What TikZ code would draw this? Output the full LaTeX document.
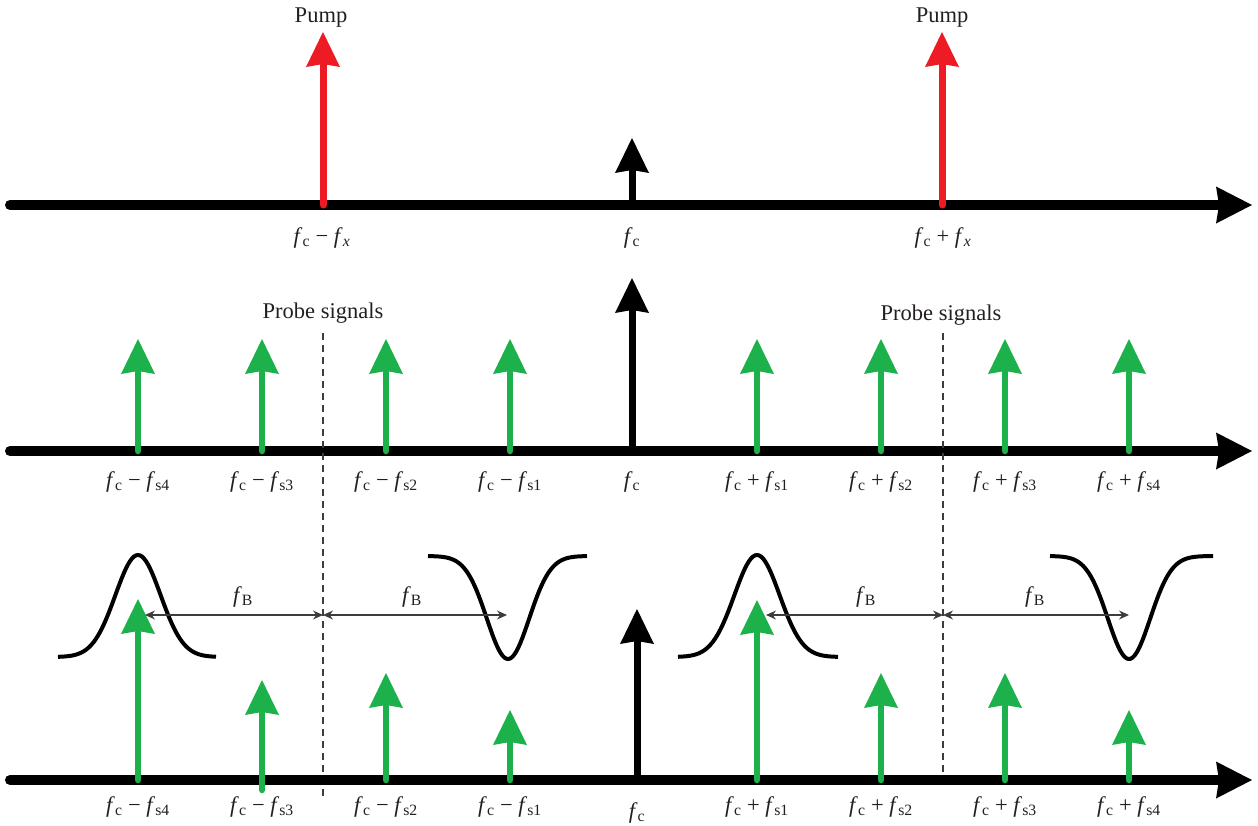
\documentclass[tikz,border=0pt]{standalone}
\usepackage{fontspec}
\setmainfont{Liberation Serif}
\usetikzlibrary{arrows.meta}
\definecolor{pumpred}{RGB}{237,28,36}
\definecolor{probegreen}{RGB}{29,177,76}
\definecolor{txt}{RGB}{35,31,32}
\definecolor{dim}{RGB}{60,60,60}
\newcommand\Fq[1]{\textit{f}\textsubscript{#1}}
\begin{document}
\begin{tikzpicture}[x=1pt,y=-1pt,
  axisline/.style={line width=10pt, line cap=round, draw=black,
    -{Stealth[length=36pt,width=37pt,inset=3pt,line width=0pt]}},
  spike/.style={line width=7pt, line cap=round,
    -{Stealth[length=35pt,width=34pt,inset=3pt,line width=0pt]}},
  pumparrow/.style={spike, draw=pumpred, fill=pumpred},
  carrier/.style={spike, draw=black, fill=black},
  probearrow/.style={spike, line width=6.5pt, draw=probegreen, fill=probegreen},
  divider/.style={draw=dim, line width=1.1pt, dash pattern=on 7pt off 5pt},
  spacing/.style={draw=dim, line width=1.6pt,
    {Stealth[length=10pt,width=9pt,line width=0pt]}-{Stealth[length=10pt,width=9pt,line width=0pt]}},
  gaincurve/.style={draw=black, line width=4pt, line join=round},
  lbl/.style={text=txt, inner sep=0pt, font=\fontsize{22.5}{26}\selectfont},
]
\useasboundingbox (0,0) rectangle (1258,825);

% ---------- Row 1 ----------
\coordinate (a1s) at (10,205);
\coordinate (a1e) at (1252,205);
\draw[axisline] (a1s) -- (a1e);
\coordinate (p1b) at (323,205); \coordinate (p1t) at (323,32);
\coordinate (p2b) at (942,205); \coordinate (p2t) at (942,32);
\coordinate (c1b) at (632,205); \coordinate (c1t) at (632,138);
\draw[pumparrow] (p1b) -- (p1t);
\draw[pumparrow] (p2b) -- (p2t);
\draw[carrier] (c1b) -- (c1t);
\node[lbl] (pump1) at (321,18) {Pump};
\node[lbl] (pump2) at (942,18) {Pump};
\node[lbl] (l1a) at (322,238) {\Fq{c} − \Fq{\textit{x}}};
\node[lbl] (l1b) at (632,238) {\Fq{c}};
\node[lbl] (l1c) at (943,238) {\Fq{c} + \Fq{\textit{x}}};

% ---------- Row 2 ----------
\coordinate (a2s) at (10,451);
\coordinate (a2e) at (1252,451);
\draw[axisline] (a2s) -- (a2e);
\coordinate (dl1) at (323,333); \coordinate (dl2) at (323,798);
\coordinate (dr1) at (943,333); \coordinate (dr2) at (943,778);
\draw[divider] (dl1) -- (dl2);
\draw[divider] (dr1) -- (dr2);
\foreach \x/\n in {138/m4,262/m3,386/m2,510/m1,757/p1,881/p2,1005/p3,1129/p4}{
  \coordinate (g2b\n) at (\x,451);
  \coordinate (g2t\n) at (\x,339);
  \draw[probearrow] (g2b\n) -- (g2t\n);
}
\coordinate (c2b) at (632,451); \coordinate (c2t) at (632,278);
\draw[carrier] (c2b) -- (c2t);
\node[lbl] (ps1) at (323,313) {Probe signals};
\node[lbl] (ps2) at (941,315) {Probe signals};
\foreach \x/\t/\n in {138/{\Fq{c} − \Fq{s4}}/a,262/{\Fq{c} − \Fq{s3}}/b,386/{\Fq{c} − \Fq{s2}}/c,510/{\Fq{c} − \Fq{s1}}/d,
  757/{\Fq{c} + \Fq{s1}}/e,881/{\Fq{c} + \Fq{s2}}/f,1005/{\Fq{c} + \Fq{s3}}/g,1129/{\Fq{c} + \Fq{s4}}/h}{
  \node[lbl] (l2\n) at (\x,482) {\t};
}
\node[lbl] (l2fc) at (632,482) {\Fq{c}};

% ---------- Row 3 ----------
\coordinate (a3s) at (10,780);
\coordinate (a3e) at (1252,780);
\draw[axisline] (a3s) -- (a3e);
% gain / loss curves
\draw[gaincurve] plot[domain=58:216, samples=80] (\x, {657 - 102*exp(-((\x-138)/32)^2)});
\draw[gaincurve] plot[domain=678:838, samples=80] (\x, {657 - 102*exp(-((\x-757)/32)^2)});
\draw[gaincurve] plot[domain=428:587, samples=80] (\x, {556 + 103*exp(-((\x-508)/30)^2)});
\draw[gaincurve] plot[domain=1050:1213, samples=80] (\x, {556 + 103*exp(-((\x-1129)/30)^2)});
% probe arrows
\foreach \x/\y/\b/\n in {138/599/780/m4,262/680/790/m3,386/673/780/m2,510/710/780/m1,
  757/600/780/p1,881/673/780/p2,1005/673/780/p3,1129/710/780/p4}{
  \coordinate (g3b\n) at (\x,\b);
  \coordinate (g3t\n) at (\x,\y);
  \draw[probearrow] (g3b\n) -- (g3t\n);
}
\coordinate (c3b) at (637,780); \coordinate (c3t) at (637,609);
\draw[carrier] (c3b) -- (c3t);
% Brillouin shift spacings
\coordinate (bl1) at (145,615); \coordinate (bl2) at (323,615); \coordinate (bl3) at (507,615);
\coordinate (br1) at (766,615); \coordinate (br2) at (943,615); \coordinate (br3) at (1129,615);
\draw[spacing] (bl1) -- (bl2);
\draw[spacing] (bl2) -- (bl3);
\draw[spacing] (br1) -- (br2);
\draw[spacing] (br2) -- (br3);
\node[lbl] (fb1) at (243,597) {\Fq{B}};
\node[lbl] (fb2) at (412,597) {\Fq{B}};
\node[lbl] (fb3) at (866,597) {\Fq{B}};
\node[lbl] (fb4) at (1035,597) {\Fq{B}};
\foreach \x/\t/\n in {138/{\Fq{c} − \Fq{s4}}/a,262/{\Fq{c} − \Fq{s3}}/b,386/{\Fq{c} − \Fq{s2}}/c,510/{\Fq{c} − \Fq{s1}}/d,
  757/{\Fq{c} + \Fq{s1}}/e,881/{\Fq{c} + \Fq{s2}}/f,1005/{\Fq{c} + \Fq{s3}}/g,1129/{\Fq{c} + \Fq{s4}}/h}{
  \node[lbl] (l3\n) at (\x,807) {\t};
}
\node[lbl] (l3fc) at (637,813) {\Fq{c}};
\end{tikzpicture}
\end{document}
